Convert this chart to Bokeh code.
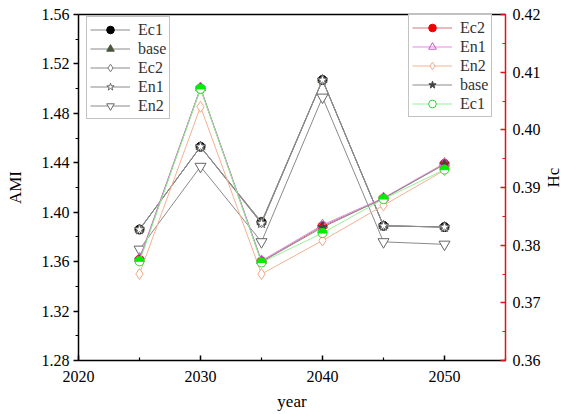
import numpy as np
from bokeh.plotting import figure
from bokeh.models import (Range1d, LinearAxis, Legend, LegendItem, FixedTicker,
                          PrintfTickFormatter)
from bokeh.embed import file_html
from bokeh.resources import INLINE

years = [2025, 2030, 2035, 2040, 2045, 2050]

# AMI (left axis)
ami_ec1 = [1.386, 1.453, 1.392, 1.507, 1.389, 1.388]
ami_base = [1.386, 1.453, 1.392, 1.507, 1.389, 1.388]
ami_ec2 = [1.386, 1.453, 1.391, 1.507, 1.389, 1.388]
ami_en1 = [1.386, 1.453, 1.391, 1.507, 1.389, 1.388]
ami_en2 = [1.370, 1.437, 1.376, 1.493, 1.376, 1.374]

# Hc (right axis)
hc_ec2 = [0.3775, 0.4072, 0.3772, 0.3833, 0.3881, 0.3941]
hc_en1 = [0.3777, 0.4073, 0.3773, 0.3835, 0.3882, 0.3942]
hc_en2 = [0.3750, 0.4040, 0.3750, 0.3808, 0.3869, 0.3930]
hc_base = [0.3774, 0.4072, 0.3771, 0.3831, 0.3881, 0.3940]
hc_ec1 = [0.3772, 0.4071, 0.3770, 0.3821, 0.3880, 0.3931]

x_ticks = [2020, 2030, 2040, 2050]
ami_ticks = [1.28, 1.32, 1.36, 1.40, 1.44, 1.48, 1.52, 1.56]
hc_ticks = [0.36, 0.37, 0.38, 0.39, 0.40, 0.41, 0.42]

FONT = "Liberation Serif"

p = figure(width=575, height=414, output_backend="svg", toolbar_location=None,
           x_range=Range1d(2020, 2055), y_range=Range1d(1.28, 1.56),
           min_border_left=78, min_border_right=68, min_border_top=14,
           min_border_bottom=54)
p.extra_y_ranges = {"hc": Range1d(0.36, 0.42)}
p.xgrid.visible = False
p.ygrid.visible = False
p.outline_line_color = None
p.background_fill_color = "white"
p.border_fill_color = "white"

xa = p.below[0]
ya = p.left[0]

# top frame line (no ticks, no labels)
ta = LinearAxis(ticker=FixedTicker(ticks=[]), major_tick_in=0, major_tick_out=0,
                minor_tick_in=0, minor_tick_out=0, major_label_text_font_size="0px",
                axis_line_color="black", axis_line_width=1.5,
                major_label_standoff=0)
p.add_layout(ta, "above")

# x axis
xa.ticker = FixedTicker(ticks=x_ticks, minor_ticks=[2025, 2035, 2045, 2055])
xa.axis_label = "year"
xa.major_tick_in = 5
xa.major_tick_out = 0
xa.minor_tick_in = 3
xa.minor_tick_out = 0
xa.major_label_standoff = 10
xa.axis_label_standoff = 7

# left axis
ya.ticker = FixedTicker(ticks=ami_ticks,
                        minor_ticks=[1.30, 1.34, 1.38, 1.42, 1.46, 1.50, 1.54])
ya.formatter = PrintfTickFormatter(format="%.2f")
ya.axis_label = "AMI"
ya.major_tick_in = 0
ya.major_tick_out = 5
ya.minor_tick_in = 0
ya.minor_tick_out = 3
ya.major_label_standoff = 4
ya.axis_label_standoff = 14

# right axis
ra = LinearAxis(y_range_name="hc", axis_label="Hc")
ra.ticker = FixedTicker(ticks=hc_ticks,
                        minor_ticks=[0.365, 0.375, 0.385, 0.395, 0.405, 0.415])
ra.formatter = PrintfTickFormatter(format="%.2f")
ra.major_tick_in = 5
ra.major_tick_out = 0
ra.minor_tick_in = 3
ra.minor_tick_out = 0
ra.major_label_standoff = 7
ra.axis_label_standoff = 10
ra.axis_label_orientation = np.pi / 2
p.add_layout(ra, "right")

for ax in [xa, ya, ra]:
    ax.axis_line_width = 1.5
    ax.major_tick_line_width = 1.5
    ax.minor_tick_line_width = 1.2
    ax.major_label_text_font = FONT
    ax.major_label_text_font_size = "16px"
    ax.major_label_text_color = "black"
    ax.axis_label_text_font = FONT
    ax.axis_label_text_font_size = "17px"
    ax.axis_label_text_font_style = "normal"
    ax.axis_label_text_color = "black"
for ax in [xa, ya]:
    ax.axis_line_color = "black"
    ax.major_tick_line_color = "black"
    ax.minor_tick_line_color = "black"
ra.axis_line_color = "#e01515"
ra.major_tick_line_color = "#e01515"
ra.minor_tick_line_color = "#e01515"

MS = 9
# ---- left series (AMI)
left_items = []
specs_left = [
    ("Ec1", ami_ec1, "circle", "black", "black", "#8a8a8a"),
    ("base", ami_base, "triangle", "#4b5640", "#4b5640", "#8a8a8a"),
    ("Ec2", ami_ec2, "diamond", "white", "#777777", "#8a8a8a"),
    ("En1", ami_en1, "star", "white", "#666666", "#8a8a8a"),
    ("En2", ami_en2, "inverted_triangle", "white", "#666666", "#8a8a8a"),
]
for name, vals, mk, fc, lc, linec in specs_left:
    l = p.line(years, vals, line_color=linec, line_width=1)
    s = p.scatter(years, vals, marker=mk,
                  size=MS + (2 if mk in ("star", "inverted_triangle") else 0),
                  fill_color=fc, line_color=lc, line_width=1)
    left_items.append(LegendItem(label=name, renderers=[l, s]))

# ---- right series (Hc)
right_items = []
l = p.line(years, hc_ec2, line_color="#d07878", line_width=1, y_range_name="hc")
s = p.scatter(years, hc_ec2, marker="circle", size=MS, fill_color="#ee0000",
              line_color="#ee0000", y_range_name="hc")
right_items.append(LegendItem(label="Ec2", renderers=[l, s]))

l = p.line(years, hc_en1, line_color="#e58ae5", line_width=1, y_range_name="hc")
s = p.scatter(years, hc_en1, marker="triangle", size=MS + 1, fill_color="white",
              fill_alpha=0, line_color="#d050d0", y_range_name="hc")
right_items.append(LegendItem(label="En1", renderers=[l, s]))

l = p.line(years, hc_en2, line_color="#f2b292", line_width=1, y_range_name="hc")
s = p.scatter(years, hc_en2, marker="diamond", size=MS + 2, fill_color="white",
              line_color="#f0a888", y_range_name="hc")
right_items.append(LegendItem(label="En2", renderers=[l, s]))

l = p.line(years, hc_base, line_color="#8a8a8a", line_width=1, y_range_name="hc")
s = p.scatter(years, hc_base, marker="star", size=MS + 1, fill_color="#444444",
              line_color="#444444", y_range_name="hc")
right_items.append(LegendItem(label="base", renderers=[l, s]))

l = p.line(years, hc_ec1, line_color="#99ee99", line_width=1, y_range_name="hc")
s = p.scatter(years, hc_ec1, marker="circle", size=MS, fill_color="white",
              line_color="#22dd22", y_range_name="hc")
w = p.wedge(years, hc_ec1, radius=4.5, radius_units="screen", start_angle=0,
            end_angle=np.pi, fill_color="#00ee00", line_color="#00ee00",
            y_range_name="hc")
right_items.append(LegendItem(label="Ec1", renderers=[l, s]))


def style_legend(lg):
    lg.label_text_font = FONT
    lg.label_text_font_size = "16px"
    lg.label_text_color = "#333333"
    lg.glyph_width = 40
    lg.glyph_height = 19
    lg.label_height = 19
    lg.label_standoff = 8
    lg.spacing = 0
    lg.padding = 3
    lg.margin = 0
    lg.border_line_color = "#888888"
    lg.border_line_width = 1
    lg.background_fill_color = "white"
    lg.background_fill_alpha = 1


leg_l = Legend(items=left_items, location=(8, 241))
leg_r = Legend(items=right_items, location=(330, 243))
style_legend(leg_l)
style_legend(leg_r)
p.add_layout(leg_l)
p.add_layout(leg_r)

open("out.html", "w").write(file_html(p, INLINE))
